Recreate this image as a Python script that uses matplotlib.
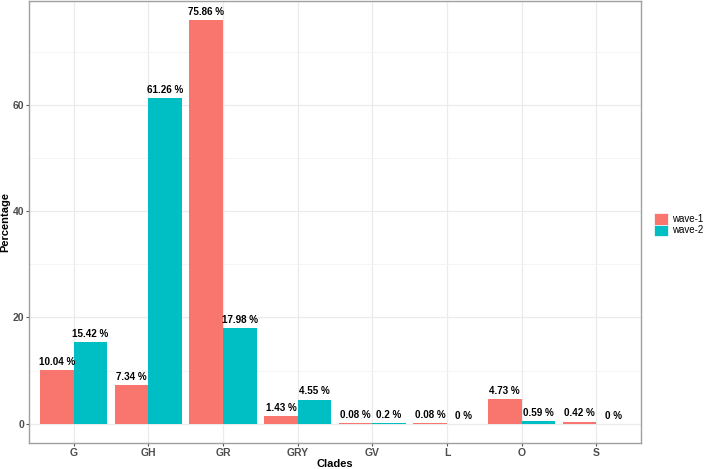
import numpy as np
import matplotlib.pyplot as plt
from matplotlib.patches import Patch

plt.rcParams['font.family'] = ['Liberation Sans', 'DejaVu Sans']

clades = ['G', 'GH', 'GR', 'GRY', 'GV', 'L', 'O', 'S']
wave1 = [10.04, 7.34, 75.86, 1.43, 0.08, 0.08, 4.73, 0.42]
wave2 = [15.42, 61.26, 17.98, 4.55, 0.2, 0, 0.59, 0]
series_names = ['wave-1', 'wave-2']
colors = ['#F8766D', '#00BFC4']

ind = np.arange(len(clades))
width = 0.45

fig = plt.figure(figsize=(7.05, 4.69), dpi=100)
ax = fig.add_axes([29/705, 26/469, 612/705, 442/469])

rects1 = ax.bar(ind - width/2, wave1, width, color=colors[0], zorder=2)
rects2 = ax.bar(ind + width/2, wave2, width, color=colors[1], zorder=2)


def autolabel(rects, vals):
    for rect, v in zip(rects, vals):
        ax.text(rect.get_x() + rect.get_width()/2, rect.get_height() + 0.6,
                '{:g} %'.format(v), ha='center', va='bottom',
                fontsize=7.1, fontweight='bold', color='black', zorder=3)


autolabel(rects1, wave1)
autolabel(rects2, wave2)

ax.set_xlim(-0.6, len(clades) - 0.4)
ax.set_ylim(-3.6, 79.5)
ax.set_xticks(ind)
ax.set_xticklabels(clades)
ax.set_yticks([0, 20, 40, 60])
ax.set_yticks([10, 30, 50, 70], minor=True)
ax.grid(True, which='major', color='#EBEBEB', linewidth=0.9, zorder=0)
ax.grid(True, which='minor', axis='y', color='#F2F2F2', linewidth=0.6, zorder=0)
ax.set_axisbelow(True)
ax.tick_params(axis='both', which='major', length=2.5, pad=1, color='#555555',
               labelcolor='#4D4D4D', labelsize=7.5)
ax.tick_params(axis='y', which='minor', length=0)
for lbl in ax.get_xticklabels() + ax.get_yticklabels():
    lbl.set_fontweight('bold')
for sp in ax.spines.values():
    sp.set_color('#A0A0A0')
    sp.set_linewidth(1.0)

ax.set_xlabel('Clades', fontsize=8, fontweight='bold', labelpad=1)
ax.set_ylabel('Percentage', fontsize=8, fontweight='bold', labelpad=2)

handles = [Patch(facecolor=c, edgecolor='white', linewidth=0.5, label=n)
           for c, n in zip(colors, series_names)]
fig.legend(handles=handles, loc='center left', bbox_to_anchor=(654/705, 0.521),
           frameon=False, fontsize=7, handlelength=1.4, handleheight=1.4,
           handletextpad=0.45, labelspacing=0.0, borderaxespad=0, borderpad=0)

fig.savefig('out.png', dpi=100)
